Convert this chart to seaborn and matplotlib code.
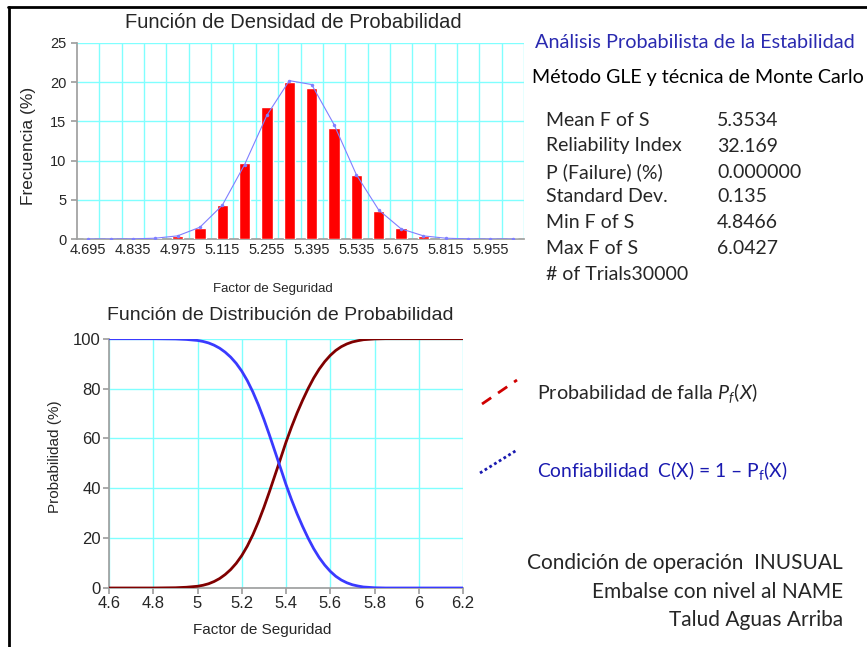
import numpy as np
import pandas as pd
import matplotlib
matplotlib.use('Agg')
import matplotlib.pyplot as plt
from matplotlib.lines import Line2D
import seaborn as sns

# Histogram data (bin centres, frequency %)
fs_bins = [4.695, 4.765, 4.835, 4.905, 4.975, 5.045, 5.115, 5.185, 5.255, 5.325,
           5.395, 5.465, 5.535, 5.605, 5.675, 5.745, 5.815, 5.885, 5.955, 6.025]
freq_bars = [0, 0, 0.02, 0.1, 0.35, 1.4, 4.4, 9.7, 16.8, 20.0,
             19.3, 14.2, 8.1, 3.6, 1.4, 0.4, 0.1, 0.02, 0, 0]
freq_line = [0, 0, 0.02, 0.1, 0.4, 1.5, 4.3, 9.5, 15.8, 20.2,
             19.7, 14.6, 8.2, 3.7, 1.3, 0.4, 0.1, 0.02, 0, 0]
hist_ticks = ['4.695', '4.835', '4.975', '5.115', '5.255', '5.395', '5.535',
              '5.675', '5.815', '5.955']

# Cumulative curves
fs_cdf = [4.6, 4.7, 4.8, 4.9, 4.95, 5.0, 5.025, 5.05, 5.075, 5.1, 5.125, 5.15, 5.175,
          5.2, 5.225, 5.25, 5.275, 5.3, 5.325, 5.35, 5.375, 5.4, 5.425, 5.45, 5.475,
          5.5, 5.525, 5.55, 5.575, 5.6, 5.625, 5.65, 5.675, 5.7, 5.725, 5.75, 5.8,
          5.85, 6.0, 6.2]
p_fail = [0, 0, 0, 0.1, 0.3, 0.7, 1.1, 1.7, 2.6, 3.8, 5.4, 7.4, 9.9,
          13.0, 16.8, 21.3, 26.5, 32.3, 38.6, 45.2, 51.8, 58.5, 64.6, 70.2, 75.3,
          80.0, 84.2, 87.8, 90.8, 93.3, 95.3, 96.8, 97.9, 98.7, 99.2, 99.6, 99.9,
          100, 100, 100]
reliab = [100, 100, 100, 99.9, 99.7, 99.3, 98.9, 98.3, 97.4, 96.2, 94.6, 92.6, 90.1,
          87.0, 83.2, 78.7, 73.5, 67.7, 61.4, 54.8, 48.2, 41.5, 35.4, 29.8, 24.7,
          20.0, 15.8, 12.2, 9.2, 6.7, 4.7, 3.2, 2.1, 1.3, 0.8, 0.4, 0.1,
          0, 0, 0]
cdf_xticks = [4.6, 4.8, 5.0, 5.2, 5.4, 5.6, 5.8, 6.0, 6.2]
cdf_xlabels = ['4.6', '4.8', '5', '5.2', '5.4', '5.6', '5.8', '6', '6.2']

# Stats table
stat_names = ['Mean F of S', 'Reliability Index', 'P (Failure) (%)', 'Standard Dev.',
              'Min F of S', 'Max F of S', '# of Trials30000']
stat_values = ['5.3534', '32.169', '0.000000', '0.135', '4.8466', '6.0427', '']

sns.set_theme(style='white')
plt.rcParams['font.family'] = ['Liberation Sans', 'DejaVu Sans']
plt.rcParams['mathtext.fontset'] = 'custom'
plt.rcParams['mathtext.rm'] = 'Lato'
plt.rcParams['mathtext.it'] = 'Lato:italic'

grid_c = '#80ffff'
spine_c = '#a0a0a0'
cal = ['Lato', 'DejaVu Sans']

W, H = 867, 647
fig = plt.figure(figsize=(8.67, 6.47), dpi=100)


def fx(px):
    return px / W


def fy(py):
    return 1 - py / H


# ---- Top: density histogram
ax1 = fig.add_axes([fx(77), fy(239), fx(524 - 77), (239 - 43) / H])
hist_df = pd.DataFrame({'fs': fs_bins, 'freq': freq_bars})
sns.barplot(data=hist_df, x='fs', y='freq', native_scale=True, width=0.5,
            color='#ff0000', saturation=1, ax=ax1, zorder=3)
sns.lineplot(x=fs_bins, y=freq_line, color='#7f7fff', linewidth=0.8, marker='o',
             markersize=2.5, markeredgewidth=0, ax=ax1, zorder=4)
ax1.set_xlim(4.66, 6.06)
ax1.set_ylim(0, 25)
ax1.set_yticks([0, 5, 10, 15, 20, 25])
ax1.set_xticks([float(t) for t in hist_ticks])
ax1.set_xticklabels(hist_ticks)
ax1.set_xticks(np.arange(4.73, 6.07, 0.07), minor=True)
ax1.tick_params(axis='x', which='major', length=0, labelsize=10.5, pad=3)
ax1.tick_params(axis='x', which='minor', length=4, color=spine_c, direction='out')
ax1.tick_params(axis='y', length=4, color=spine_c, direction='out', labelsize=10.5, left=True)
ax1.grid(True, which='minor', axis='x', color=grid_c, linewidth=1, zorder=0)
ax1.grid(True, which='major', axis='y', color=grid_c, linewidth=1, zorder=0)
ax1.grid(False, which='major', axis='x')
ax1.set_axisbelow(True)
for s in ['top', 'right']:
    ax1.spines[s].set_visible(False)
for s in ['left', 'bottom']:
    ax1.spines[s].set_color(spine_c)
ax1.set_xlabel('')
ax1.set_ylabel('')
fig.text(fx(293), fy(22), 'Función de Densidad de Probabilidad', ha='center', va='center', fontsize=14.5)
fig.text(fx(29), fy(146), 'Frecuencia (%)', ha='center', va='center', rotation=90, fontsize=12.5)
fig.text(fx(273), fy(289), 'Factor de Seguridad', ha='center', va='center', fontsize=9.5)

# ---- Bottom: cumulative distribution
ax2 = fig.add_axes([fx(109), fy(588), fx(463 - 109), (588 - 338.7) / H])
sns.lineplot(x=fs_cdf, y=p_fail, color='#800000', linewidth=2, ax=ax2, zorder=3)
sns.lineplot(x=fs_cdf, y=reliab, color='#3a3aff', linewidth=2, ax=ax2, zorder=3)
ax2.set_xlim(4.6, 6.2)
ax2.set_ylim(0, 100)
ax2.set_xticks(cdf_xticks)
ax2.set_xticklabels(cdf_xlabels)
ax2.set_yticks([0, 20, 40, 60, 80, 100])
ax2.tick_params(axis='both', length=4, color=spine_c, direction='out', labelsize=12,
                left=True, bottom=True, pad=2)
ax2.grid(True, color=grid_c, linewidth=1, zorder=0)
ax2.set_axisbelow(True)
for s in ['top', 'right']:
    ax2.spines[s].set_visible(False)
for s in ['left', 'bottom']:
    ax2.spines[s].set_color(spine_c)
fig.text(fx(280), fy(315), 'Función de Distribución de Probabilidad', ha='center', va='center', fontsize=14)
fig.text(fx(55), fy(457), 'Probabilidad (%)', ha='center', va='center', rotation=90, fontsize=11)
fig.text(fx(262), fy(630), 'Factor de Seguridad', ha='center', va='center', fontsize=11)

# ---- Right-hand annotations
fig.text(fx(535), fy(43), 'Análisis Probabilista de la Estabilidad', ha='left', va='center',
         fontsize=14.3, color='#2a2ab0', family=cal)
fig.text(fx(532), fy(77), 'Método GLE y técnica de Monte Carlo', ha='left', va='center',
         fontsize=14.1, color='black', family=cal)
row_y = [121, 146, 172, 197, 222, 248, 274]
for name, val, yy in zip(stat_names, stat_values, row_y):
    fig.text(fx(546), fy(yy), name, ha='left', va='center', fontsize=14, family=cal)
    fig.text(fx(717), fy(yy), val, ha='left', va='center', fontsize=14, family=cal)

fig.add_artist(Line2D([fx(482), fx(517)], [fy(404), fy(380)], color='#d00000', linewidth=2,
                      linestyle=(0, (4, 3))))
fig.add_artist(Line2D([fx(480), fx(517)], [fy(473), fy(450)], color='#1a1ab0', linewidth=2,
                      linestyle=(0, (1, 1))))
fig.text(fx(537), fy(393), r'Probabilidad de falla $\mathit{P_f(X)}$', ha='left', va='center',
         fontsize=14.2, family=cal)
fig.text(fx(537), fy(471), r'Confiabilidad  C(X) = 1 – P$_\mathrm{f}$(X)', ha='left', va='center',
         fontsize=13.9, color='#1a1ab0', family=cal)

for txt, yy in zip(['Condición de operación  INUSUAL', 'Embalse con nivel al NAME', 'Talud Aguas Arriba'],
                   [563, 592, 620]):
    fig.text(fx(843), fy(yy), txt, ha='right', va='center', fontsize=15, family=cal)

# frame
fig.add_artist(Line2D([fx(8), fx(867)], [fy(7), fy(7)], color='black', linewidth=2))
fig.add_artist(Line2D([fx(9), fx(9)], [fy(7), fy(647)], color='black', linewidth=2))

fig.savefig('out.png', dpi=100)
